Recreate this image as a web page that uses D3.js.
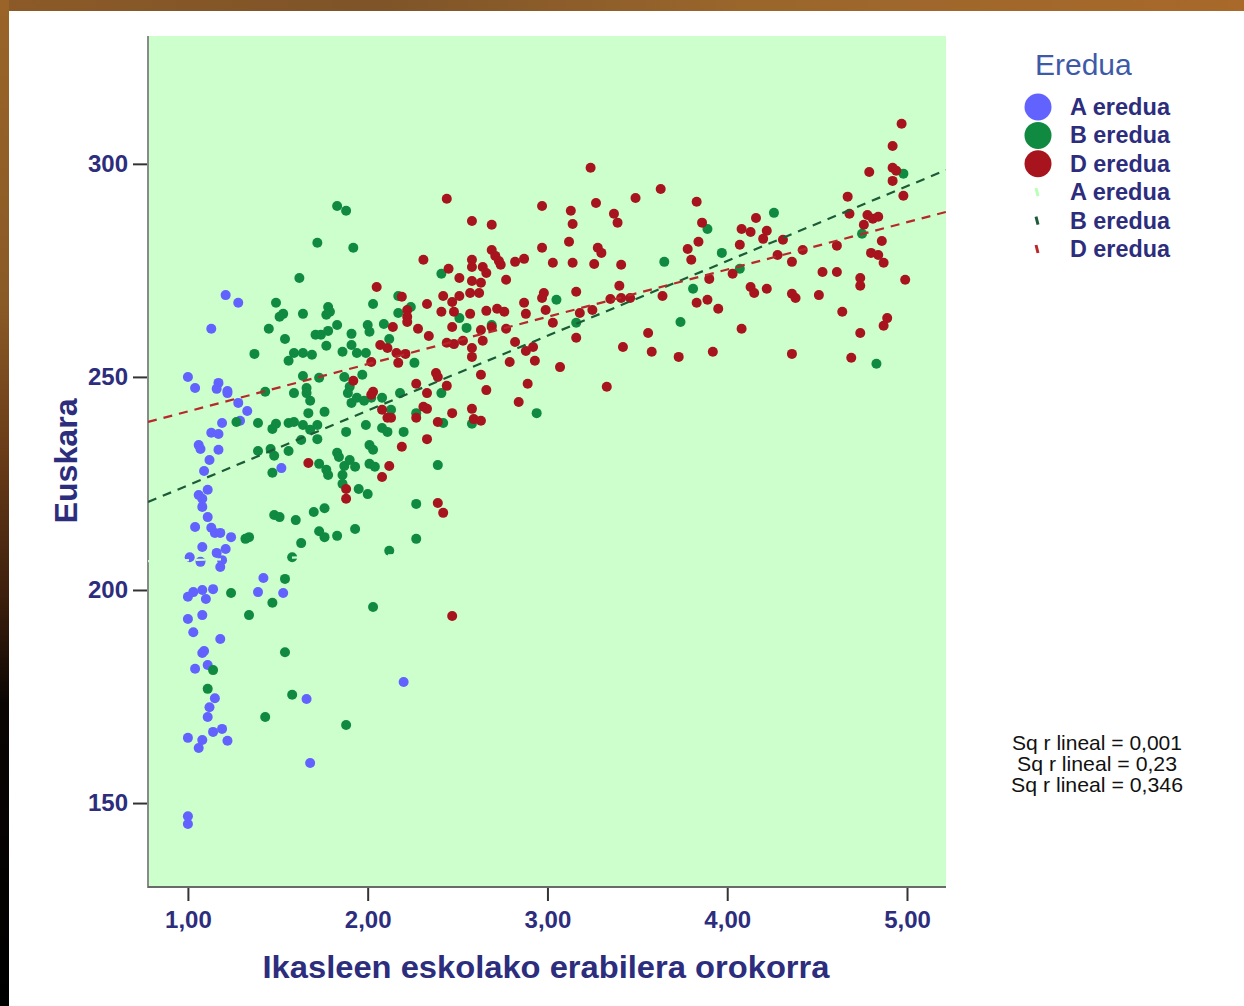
<!DOCTYPE html>
<html>
<head>
<meta charset="utf-8">
<script src="https://cdn.jsdelivr.net/npm/d3@7"></script>
<style>
  body { margin: 0; background: #fff; }
  svg { display: block; }
</style>
</head>
<body>
<div id="chart"></div>
<script>
// data: [x = Ikasleen eskolako erabilera, y = Euskara]
var seriesA = [[1.00,250.0],[1.04,247.4],[1.17,248.6],[1.16,247.2],[1.22,246.7],[1.22,246.2],[1.28,243.9],[1.33,242.0],[1.29,239.7],[1.19,239.2],[1.13,236.9],[1.17,236.6],[1.06,234.0],[1.07,233.1],[1.17,232.9],[1.12,230.5],[1.09,227.9],[1.52,228.6],[1.11,223.5],[1.06,222.3],[1.08,221.4],[1.08,219.5],[1.11,217.1],[1.04,214.8],[1.13,214.6],[1.15,213.4],[1.18,213.4],[1.24,212.4],[1.08,210.1],[1.21,209.6],[1.16,208.7],[1.01,207.7],[1.07,206.6],[1.19,207.0],[1.18,205.4],[1.42,202.8],[1.14,200.2],[1.00,198.4],[1.03,199.5],[1.08,200.0],[1.10,197.9],[1.39,199.5],[1.53,199.3],[1.08,194.1],[1.00,193.2],[1.03,190.1],[1.18,188.5],[1.08,185.2],[1.09,185.7],[1.04,181.5],[1.11,182.4],[1.15,174.6],[1.12,172.5],[1.11,170.2],[1.14,166.7],[1.19,167.4],[1.00,165.3],[1.08,164.8],[1.22,164.6],[1.06,162.9],[1.66,174.4],[1.68,159.4],[1.00,146.9],[1.00,145.1],[2.20,178.4],[1.21,269.2],[1.28,267.4],[1.13,261.3]];

var seriesB = [[1.83,290.1],[1.88,289.0],[1.72,281.5],[1.92,280.3],[1.62,273.2],[1.49,267.4],[1.53,264.8],[1.51,264.1],[1.64,264.8],[1.45,261.3],[1.54,258.9],[1.37,255.4],[1.56,253.8],[1.59,255.6],[1.64,255.6],[1.69,255.2],[1.71,259.9],[1.74,259.9],[1.78,260.8],[1.83,262.2],[1.77,257.3],[1.78,266.4],[1.79,265.3],[1.77,264.6],[1.91,260.1],[1.91,257.5],[1.86,255.9],[1.94,255.6],[1.99,255.6],[2.00,262.2],[2.01,260.6],[2.03,267.1],[2.09,262.4],[2.12,258.9],[2.17,269.0],[2.17,265.0],[2.24,266.4],[2.26,253.3],[1.64,250.2],[1.73,249.8],[1.66,247.4],[1.66,246.2],[1.59,246.2],[1.68,244.4],[1.43,246.5],[1.87,250.0],[1.97,250.5],[1.90,247.7],[1.89,246.2],[1.91,243.9],[1.94,245.1],[1.98,244.4],[2.02,245.1],[2.08,245.1],[2.13,242.3],[2.18,246.2],[1.67,241.5],[1.76,241.8],[1.27,239.4],[1.39,239.2],[1.47,237.8],[1.49,239.0],[1.56,239.2],[1.59,239.4],[1.64,238.7],[1.68,237.6],[1.72,238.7],[1.72,235.4],[1.63,235.2],[1.88,237.1],[1.99,238.7],[2.08,238.0],[2.11,237.1],[2.20,237.1],[1.39,232.6],[1.46,233.1],[1.48,231.5],[1.56,232.6],[1.47,227.5],[1.73,229.6],[1.77,228.2],[1.78,227.0],[1.83,232.2],[1.84,231.2],[1.87,229.1],[1.90,230.5],[1.93,228.9],[1.86,227.0],[1.86,224.9],[1.95,223.7],[2.00,222.5],[2.01,234.0],[2.03,232.9],[2.01,229.6],[2.04,228.9],[2.27,220.2],[2.27,212.0],[1.48,217.6],[1.51,217.1],[1.60,216.4],[1.70,218.3],[1.76,219.2],[1.73,213.8],[1.76,212.4],[1.83,212.7],[1.93,214.3],[2.12,209.2],[1.63,211.0],[1.58,207.7],[1.54,202.6],[1.34,212.4],[1.32,212.0],[1.24,199.3],[1.47,197.0],[1.34,194.1],[2.03,196.0],[1.54,185.4],[1.14,181.2],[1.11,176.8],[1.58,175.4],[1.43,170.2],[1.88,168.3],[2.41,274.2],[2.51,263.8],[2.55,261.5],[2.69,262.2],[3.05,268.1],[3.16,262.7],[3.65,277.0],[3.74,262.9],[2.41,246.2],[2.27,241.5],[2.42,239.2],[2.58,239.0],[2.94,241.5],[2.39,229.3],[4.98,297.7],[4.26,288.5],[3.89,284.7],[3.97,279.1],[4.07,275.4],[4.75,283.6],[3.81,270.7],[4.83,253.1]];

var seriesD = [[2.05,271.1],[2.19,268.8],[2.22,265.7],[2.22,264.1],[2.22,262.9],[2.14,261.7],[2.28,261.3],[2.07,257.5],[2.11,256.8],[2.16,255.6],[2.21,255.4],[2.02,253.5],[2.17,253.3],[1.92,249.1],[2.02,245.8],[2.03,246.5],[2.08,242.3],[2.11,240.4],[2.13,240.4],[2.19,233.6],[2.12,229.1],[2.08,226.5],[1.67,229.8],[1.88,223.7],[1.88,221.4],[2.27,248.4],[2.27,240.4],
  [3.24,299.1],[2.44,291.8],[2.97,290.1],[3.13,289.0],[3.27,290.8],[3.49,292.0],[3.63,294.1],[3.37,288.3],[3.39,286.2],[3.14,285.9],[2.58,286.6],[2.69,285.7],[3.12,281.7],[2.97,280.3],[3.28,280.3],[3.30,279.1],[3.78,280.0],[2.31,277.5],[2.58,277.5],[2.58,275.8],[2.45,275.4],[2.69,279.8],[2.71,278.4],[2.73,277.2],[2.74,276.3],[2.82,277.0],[2.87,277.7],[3.03,276.8],[3.14,276.8],[3.26,276.5],[3.41,276.3],[2.64,275.8],[2.66,274.4],[2.51,273.2],[2.58,272.5],[2.63,272.1],[2.77,272.8],[3.40,271.4],[2.42,269.0],[2.51,269.0],[2.47,267.6],[2.57,269.7],[2.62,269.7],[2.33,267.1],[2.41,265.3],[2.48,265.3],[2.57,264.8],[2.66,265.5],[2.72,266.0],[2.76,265.3],[2.87,267.4],[2.88,264.8],[2.98,269.7],[2.97,268.5],[2.99,265.7],[3.03,262.7],[3.16,270.0],[3.18,265.0],[3.25,265.7],[3.35,268.3],[3.41,268.5],[3.46,268.5],[3.64,269.0],[2.47,261.7],[2.63,261.0],[2.69,261.7],[2.77,261.3],[2.34,259.6],[2.64,258.5],[2.44,258.0],[2.53,258.5],[2.48,257.7],[2.58,256.8],[2.58,254.7],[2.82,258.2],[2.88,256.1],[2.92,257.0],[2.93,253.8],[2.79,253.5],[3.16,259.2],[3.56,260.3],[3.42,257.0],[3.58,255.9],[3.73,254.7],[3.07,252.3],[2.38,250.9],[2.39,250.0],[2.33,246.2],[2.44,247.9],[2.63,250.5],[2.66,246.9],[2.89,248.4],[2.84,244.1],[3.33,247.7],[2.31,243.0],[2.33,242.5],[2.47,241.5],[2.58,242.5],[2.59,240.1],[2.63,239.7],[2.39,239.4],[2.33,235.4],[2.39,220.4],[2.42,218.1],[2.47,193.9],
  [4.97,309.4],[4.92,304.2],[4.92,299.1],[4.94,298.4],[4.92,296.0],[4.98,292.5],[4.79,298.1],[4.67,292.3],[4.68,288.3],[4.78,288.0],[4.81,287.1],[4.84,287.6],[4.76,285.7],[4.86,281.9],[4.61,280.8],[4.80,279.1],[4.84,278.6],[4.87,276.8],[4.99,272.8],[4.53,274.6],[4.61,274.6],[4.74,273.2],[4.74,271.4],[4.64,265.3],[4.74,260.3],[4.89,263.8],[4.87,262.0],[4.69,254.5],[4.36,255.4],[3.83,291.1],[3.86,286.2],[3.84,281.7],[3.80,277.5],[3.90,273.0],[4.03,274.2],[4.07,281.0],[4.08,284.7],[4.13,284.0],[4.16,287.3],[4.22,284.3],[4.20,282.4],[4.31,282.2],[4.28,278.6],[4.36,277.0],[4.42,279.8],[4.13,271.1],[4.15,269.7],[4.22,270.7],[4.36,269.5],[4.38,268.5],[4.51,269.2],[3.89,268.1],[3.83,267.4],[3.95,266.0],[4.08,261.3],[3.92,255.9]];

// linear fits (intercept, slope), one per group
var fitA = [206.0, 1.0];
var fitB = [207.0, 17.55];
var fitD = [230.8, 11.1];

var groupLabels = ["A eredua", "B eredua", "D eredua"];
var groupColors = ["#6262ff", "#0f8a40", "#a8141e"];
var lineColors = ["#cbffcb", "#1d5a38", "#b8282a"];
var rsqLabels = ["Sq r lineal = 0,001", "Sq r lineal = 0,23", "Sq r lineal = 0,346"];

var xTicks = [1, 2, 3, 4, 5];
var yTicks = [150, 200, 250, 300];

var width = 1244;
var height = 1006;
// plot box (note: "top" is a reserved window property, so use other names)
var plotL = 148, plotR = 946, plotT = 36, plotB = 887;
var navy = "#2d2d7d";
var font = "'Liberation Sans', Arial, sans-serif";

var svg = d3.select("#chart")
    .append("svg")
    .attr("width", width)
    .attr("height", height)
    .style("font-family", font);

// background frame (the slide behind the chart)
var defs = svg.append("defs");
var gl = defs.append("linearGradient").attr("id", "leftStrip")
    .attr("x1", 0).attr("y1", 0).attr("x2", 0).attr("y2", 1);
gl.append("stop").attr("offset", "0").attr("stop-color", "#9a6428");
gl.append("stop").attr("offset", "0.3").attr("stop-color", "#8a5a26");
gl.append("stop").attr("offset", "0.45").attr("stop-color", "#6a3c18");
gl.append("stop").attr("offset", "0.6").attr("stop-color", "#3a1e0c");
gl.append("stop").attr("offset", "0.7").attr("stop-color", "#0a0503");
gl.append("stop").attr("offset", "1").attr("stop-color", "#000");
var gt = defs.append("linearGradient").attr("id", "topStrip")
    .attr("x1", 0).attr("y1", 0).attr("x2", 1).attr("y2", 0);
gt.append("stop").attr("offset", "0").attr("stop-color", "#8c5a28");
gt.append("stop").attr("offset", "0.3").attr("stop-color", "#7e5428");
gt.append("stop").attr("offset", "0.6").attr("stop-color", "#9a662c");
gt.append("stop").attr("offset", "1").attr("stop-color", "#a8692a");

svg.append("rect").attr("width", width).attr("height", height).attr("fill", "#fff");
svg.append("rect").attr("width", width).attr("height", 11).attr("fill", "url(#topStrip)");
svg.append("rect").attr("width", 9).attr("height", height).attr("fill", "url(#leftStrip)");

defs.append("clipPath").attr("id", "plotClip")
  .append("rect")
    .attr("x", plotL).attr("y", plotT)
    .attr("width", plotR - plotL).attr("height", plotB - plotT);

// scales
var x = d3.scaleLinear()
    .domain([0.778, 5.217])
    .range([plotL, plotR]);

var y = d3.scaleLinear()
    .domain([130.3, 330])
    .range([plotB, plotT]);

svg.append("rect")
    .attr("x", plotL).attr("y", plotT)
    .attr("width", plotR - plotL).attr("height", plotB - plotT)
    .attr("fill", "#ccffcc");

// axes
var fmt = function(d) { return d3.format(".2f")(d).replace(".", ","); };

var gX = svg.append("g")
    .attr("transform", "translate(0," + plotB + ")")
    .call(d3.axisBottom(x).tickValues(xTicks).tickFormat(fmt).tickSize(14).tickPadding(10));

var gY = svg.append("g")
    .attr("transform", "translate(" + plotL + ",0)")
    .call(d3.axisLeft(y).tickValues(yTicks).tickSize(15).tickPadding(5));

[gX, gY].forEach(function(g) {
    g.select(".domain").remove();
    g.selectAll(".tick line").attr("stroke", "#333").attr("stroke-width", 2);
    g.selectAll(".tick text")
        .attr("fill", navy)
        .style("font-size", "24px")
        .style("font-weight", "bold")
        .style("font-family", font);
});

svg.append("line")
    .attr("x1", plotL).attr("x2", plotL).attr("y1", plotT).attr("y2", plotB + 1)
    .attr("stroke", "#8a8a8a").attr("stroke-width", 2);
svg.append("line")
    .attr("x1", plotL).attr("x2", plotR).attr("y1", plotB).attr("y2", plotB)
    .attr("stroke", "#6a6a6a").attr("stroke-width", 2);

// points
var groups = [seriesA, seriesB, seriesD];
var pts = svg.append("g");
groups.forEach(function(data, i) {
    pts.selectAll("circle.g" + i)
        .data(data).enter()
        .append("circle")
        .attr("class", "g" + i)
        .attr("cx", function(d) { return x(d[0]); })
        .attr("cy", function(d) { return y(d[1]); })
        .attr("r", 5)
        .attr("fill", groupColors[i]);
});

// fit lines
var fits = [fitA, fitB, fitD];
var lineG = svg.append("g").attr("clip-path", "url(#plotClip)");
fits.forEach(function(f, i) {
    var x0 = x.domain()[0], x1 = x.domain()[1];
    lineG.append("line")
        .attr("x1", x(x0)).attr("y1", y(f[0] + f[1] * x0))
        .attr("x2", x(x1)).attr("y2", y(f[0] + f[1] * x1))
        .attr("stroke", lineColors[i])
        .attr("stroke-width", 2.2)
        .attr("stroke-dasharray", "9,7");
});

// axis titles
svg.append("text")
    .attr("x", 546).attr("y", 978)
    .attr("text-anchor", "middle")
    .attr("textLength", 567).attr("lengthAdjust", "spacingAndGlyphs")
    .attr("fill", navy)
    .style("font-size", "31px").style("font-weight", "bold")
    .text("Ikasleen eskolako erabilera orokorra");

svg.append("text")
    .attr("transform", "translate(77,461) rotate(-90)")
    .attr("text-anchor", "middle")
    .attr("textLength", 125).attr("lengthAdjust", "spacingAndGlyphs")
    .attr("fill", navy)
    .style("font-size", "31px").style("font-weight", "bold")
    .text("Euskara");

// legend
var legend = svg.append("g");
legend.append("text")
    .attr("x", 1035).attr("y", 75)
    .attr("fill", "#3d5aa8")
    .style("font-size", "30px")
    .text("Eredua");

var rowY = function(i) { return 107 + i * 28.4; };

groupLabels.forEach(function(lab, i) {
    legend.append("circle")
        .attr("cx", 1038).attr("cy", rowY(i)).attr("r", 13.5)
        .attr("fill", groupColors[i]);
    legend.append("text")
        .attr("x", 1070).attr("y", rowY(i) + 8)
        .attr("textLength", 100).attr("lengthAdjust", "spacingAndGlyphs")
        .attr("fill", navy)
        .style("font-size", "23px").style("font-weight", "bold")
        .text(lab);
});
groupLabels.forEach(function(lab, i) {
    var yy = rowY(i + 3);
    legend.append("line")
        .attr("x1", 1036).attr("y1", yy - 4)
        .attr("x2", 1038).attr("y2", yy + 4)
        .attr("stroke", i === 0 ? "#b8ffb8" : lineColors[i])
        .attr("stroke-width", 3);
    legend.append("text")
        .attr("x", 1070).attr("y", yy + 8)
        .attr("textLength", 100).attr("lengthAdjust", "spacingAndGlyphs")
        .attr("fill", navy)
        .style("font-size", "23px").style("font-weight", "bold")
        .text(lab);
});

// r squared notes
var rsqWidths = [170, 160, 172];
rsqLabels.forEach(function(t, i) {
    svg.append("text")
        .attr("x", 1097).attr("y", 750 + i * 21)
        .attr("text-anchor", "middle")
        .attr("textLength", rsqWidths[i]).attr("lengthAdjust", "spacingAndGlyphs")
        .attr("fill", "#111")
        .style("font-size", "21px")
        .text(t);
});
</script>
</body>
</html>
